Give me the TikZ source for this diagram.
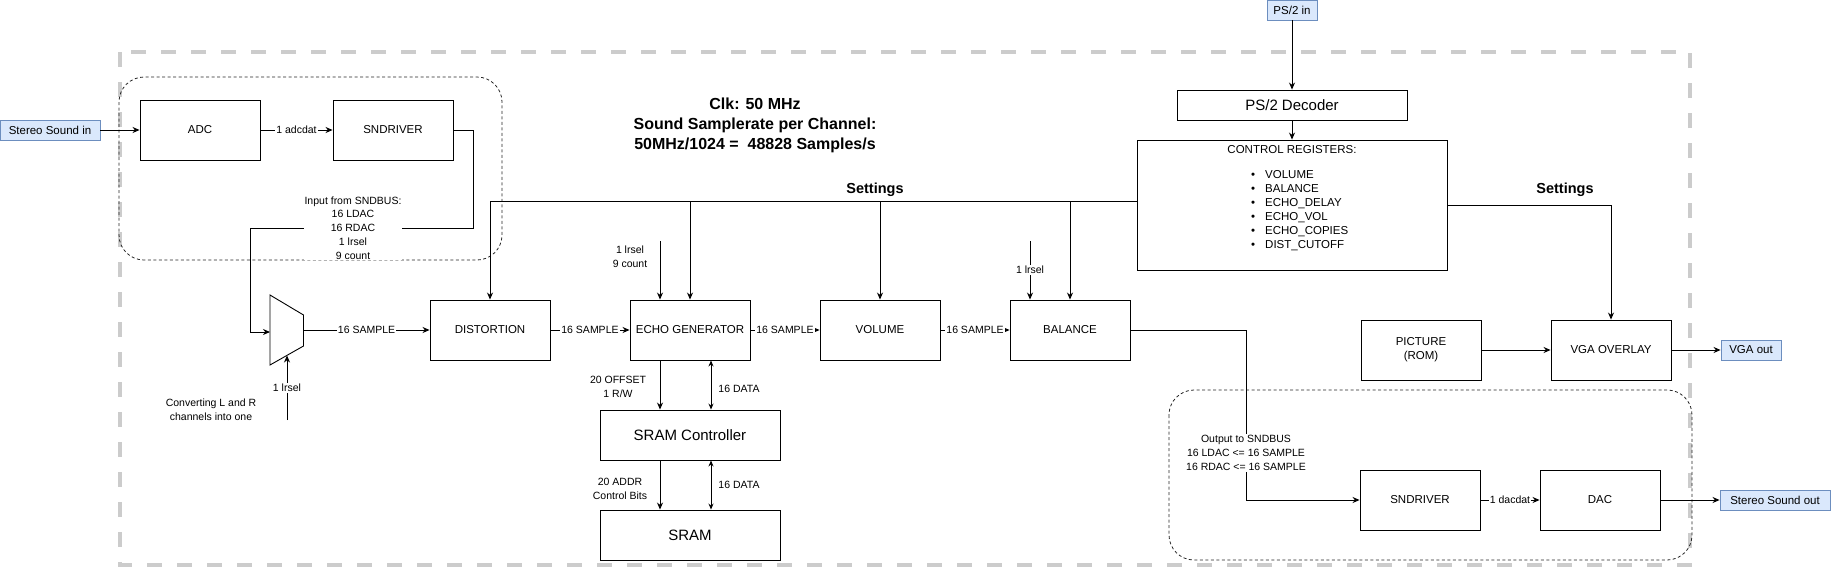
\documentclass[tikz,border=0pt]{standalone}
\usepackage{fontspec}
\setmainfont{Liberation Sans}
\usetikzlibrary{arrows.meta, positioning}

\definecolor{portfill}{HTML}{DAE8FC}
\definecolor{portedge}{HTML}{6C8EBF}
\definecolor{framegray}{HTML}{CCCCCC}

\newcommand{\boxfont}{\fontsize{11.5}{14}\selectfont}
\newcommand{\lblfont}{\fontsize{10.5}{13.8}\selectfont}
\newcommand{\bigfont}{\fontsize{15}{18}\selectfont}
\newcommand{\headfont}{\fontsize{16}{20}\selectfont\bfseries}
\newcommand{\setfont}{\fontsize{14.5}{17}\selectfont\bfseries}

\tikzset{
  blk/.style={draw, line width=0.9pt, minimum width=120pt, minimum height=60pt, inner sep=0pt, font=\boxfont, align=center},
  port/.style={draw=portedge, fill=portfill, line width=0.9pt, minimum height=20pt, inner sep=0pt, font=\boxfont},
  lbl/.style={font=\lblfont, align=center, inner sep=1pt},
  onlbl/.style={lbl, fill=white},
  arr/.style={line width=0.9pt, -{Stealth[length=7pt,width=6pt]}},
  biarr/.style={line width=0.9pt, {Stealth[length=6pt,width=5pt]}-{Stealth[length=6pt,width=5pt]}},
  wire/.style={line width=0.9pt},
  group/.style={draw=black!85, line width=0.8pt, dash pattern=on 3pt off 2.5pt, rounded corners=25pt},
}

\begin{document}
\begin{tikzpicture}[x=1pt, y=-1pt]
\useasboundingbox (0,0) rectangle (1831,573);

% FPGA frame and sound bus groups
\draw[draw=framegray, line width=4pt, dash pattern=on 15pt off 15pt] (120,52) rectangle (1690,565);
\draw[group] (119,77) rectangle (502,260);
\draw[group] (1169,390) rectangle (1692,560);

% Input side
\node[port, minimum width=100pt] (stin) at (50,130) {Stereo Sound in};
\node[blk] (adc) at (200,130) {ADC};
\node[blk] (sndin) at (393,130) {SNDRIVER};

% Mux
\draw[wire] (270,295) -- (303.5,315) -- (303.5,346) -- (270,365) -- cycle;
\coordinate (muxin) at (270,332);
\coordinate (muxout) at (303.5,330);
\coordinate (muxsel) at (287,355.5);
\coordinate (selsrc) at (287,420);

% Sound chain
\node[blk] (dist) at (490,330) {DISTORTION};
\node[blk] (echo) at (690,330) {ECHO GENERATOR};
\node[blk] (vol) at (880,330) {VOLUME};
\node[blk] (bal) at (1070,330) {BALANCE};
\node[blk, minimum width=180pt, minimum height=50pt, font=\bigfont] (sramc) at (690,435) {SRAM Controller};
\node[blk, minimum width=180pt, minimum height=50pt, font=\bigfont] (sram) at (690,535) {SRAM};

% Control side
\node[port, minimum width=50pt] (ps2) at (1292,10) {PS/2 in};
\node[blk, minimum width=230pt, minimum height=30pt, font=\bigfont] (dec) at (1292,105) {PS/2 Decoder};
\node[blk, minimum width=310pt, minimum height=130pt] (creg) at (1292,205) {};
\node[anchor=north, font=\boxfont, inner sep=0pt] (cregtitle) at ([yshift=-6pt]creg.north) {CONTROL REGISTERS:};
\node[anchor=north west, font=\boxfont, align=left, inner sep=0pt] (creglist) at (1251,170)
  {\makebox[14pt][l]{\textbullet}VOLUME\\ \makebox[14pt][l]{\textbullet}BALANCE\\
   \makebox[14pt][l]{\textbullet}ECHO\_DELAY\\ \makebox[14pt][l]{\textbullet}ECHO\_VOL\\
   \makebox[14pt][l]{\textbullet}ECHO\_COPIES\\ \makebox[14pt][l]{\textbullet}DIST\_CUTOFF};

% Output side
\node[blk] (pic) at (1421,350) {PICTURE\\(ROM)};
\node[blk] (vga) at (1611,350) {VGA OVERLAY};
\node[port, minimum width=60pt] (vgaout) at (1751,350) {VGA out};
\node[blk] (sndout) at (1420,500) {SNDRIVER};
\node[blk] (dac) at (1600,500) {DAC};
\node[port, minimum width=110pt] (stout) at (1775,500) {Stereo Sound out};

% Texts
\node[font=\headfont, align=center] (clk) at (755,125) {Clk: 50 MHz\\Sound Samplerate per Channel:\\50MHz/1024 = \ 48828 Samples/s};
\node[font=\setfont] (setl) at (875,190) {Settings};
\node[font=\setfont] (setr) at (1565,190) {Settings};
\node[lbl] (conv) at (211,410) {Converting L and R\\channels into one};

% Input connections
\draw[arr] (stin) -- (adc);
\draw[arr] (adc) -- node[onlbl] (adcdat) {1 adcdat} (sndin);
\draw[arr] (sndin.east) -| (473,228) -- (250,228) |- (muxin);
\node[onlbl] (busin) at (353,228) {Input from SNDBUS:\\16 LDAC\\16 RDAC\\1 lrsel\\9 count};
\draw[arr] (selsrc) -- (muxsel);
\node[onlbl] (muxlr) at (287,388) {1 lrsel};

% Sample chain
\draw[arr] (muxout) -- node[onlbl] (s1) {16 SAMPLE} (dist.west);
\draw[arr] (dist) -- node[onlbl] (s2) {16 SAMPLE} (echo);
\draw[arr] (echo) -- node[onlbl] (s3) {16 SAMPLE} (vol);
\draw[arr] (vol) -- node[onlbl] (s4) {16 SAMPLE} (bal);

% Settings bus
\coordinate (bus) at ([yshift=4pt]creg.west);
\draw[arr] (bus) -| (dist.north);
\draw[arr] (bus -| echo.north) -- (echo.north);
\draw[arr] (bus -| vol.north) -- (vol.north);
\draw[arr] (bus -| bal.north) -- (bal.north);
\draw[arr] (creg.east) -| (vga.north);

% Extra inputs of echo and balance
\coordinate (echosel) at (660,241);
\draw[arr] (echosel) -- (echosel |- echo.north);
\node[lbl] (echolr) at (630,257) {1 lrsel\\9 count};
\coordinate (balsel) at (1030,241);
\draw[arr] (balsel) -- (balsel |- bal.north);
\node[onlbl] (ballr) at (1030,270) {1 lrsel};

% SRAM
\draw[arr] ([xshift=-30pt]echo.south) -- ([xshift=-30pt]sramc.north);
\draw[biarr] ([xshift=21pt]echo.south) -- ([xshift=21pt]sramc.north);
\node[lbl] (offs) at (618,387) {20 OFFSET\\1 R/W};
\node[lbl] (data1) at (739,389) {16 DATA};
\draw[arr] ([xshift=-30pt]sramc.south) -- ([xshift=-30pt]sram.north);
\draw[biarr] ([xshift=21pt]sramc.south) -- ([xshift=21pt]sram.north);
\node[lbl] (addr) at (620,489) {20 ADDR\\Control Bits};
\node[lbl] (data2) at (739,485) {16 DATA};

% Control path
\draw[arr] (ps2) -- (dec);
\draw[arr] (dec) -- (creg);

% Outputs
\draw[arr] (pic) -- (vga);
\draw[arr] (vga) -- (vgaout);
\draw[arr] (bal.east) -- (1246,330) |- (sndout.west);
\node[onlbl] (busout) at (1246,453) {Output to SNDBUS\\16 LDAC <= 16 SAMPLE\\16 RDAC <= 16 SAMPLE};
\draw[arr] (sndout) -- node[onlbl] (dacdat) {1 dacdat} (dac);
\draw[arr] (dac) -- (stout);

\end{tikzpicture}
\end{document}
